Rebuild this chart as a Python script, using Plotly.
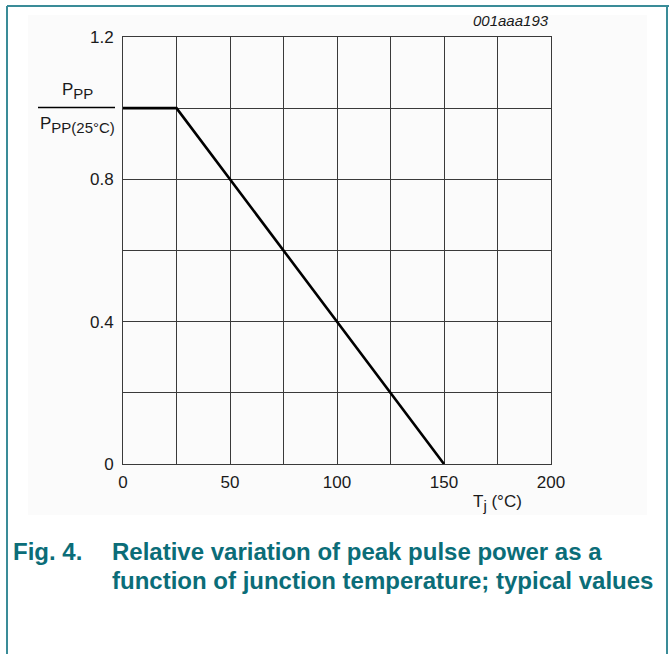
import plotly.graph_objects as go

# Data
tj_celsius = [0, 25, 150]
relative_ppp = [1.0, 1.0, 0.0]

x_tick_vals = [0, 25, 50, 75, 100, 125, 150, 175, 200]
x_tick_text = ["0", "", "50", "", "100", "", "150", "", "200"]
y_tick_vals = [0, 0.2, 0.4, 0.6, 0.8, 1.0, 1.2]
y_tick_text = ["0", "", "0.4", "", "0.8", "", "1.2"]

W, H = 669, 654
L, R, T, B = 123, 551, 37, 464
PW, PH = R - L, B - T

def px(x):
    return (x - L) / PW

def py(y):
    return (B - y) / PH

TEAL = "#0b6d78"
BORDER = "#3a8c98"
FONT = "Liberation Sans, Arial, sans-serif"
TXT = "#1a1a1a"

fig = go.Figure()
fig.add_trace(go.Scatter(x=tj_celsius, y=relative_ppp, mode="lines",
                         line=dict(color="black", width=2.6), showlegend=False,
                         hoverinfo="skip"))

axis_common = dict(showgrid=True, gridcolor="#3a3a3a", gridwidth=1,
                   showline=True, linecolor="#3a3a3a", linewidth=1, mirror=True,
                   zeroline=False, ticks="", fixedrange=True,
                   tickfont=dict(family=FONT, size=17, color=TXT))

SUB = "<sub><span style='font-size:15px'>{}</span></sub>"

fig.update_layout(
    width=W, height=H,
    margin=dict(l=L, r=W - R, t=T, b=H - B),
    paper_bgcolor="white", plot_bgcolor="white",
    xaxis=dict(range=[0, 200], tickmode="array", tickvals=x_tick_vals,
               ticktext=x_tick_text, ticklabelstandoff=3, **axis_common),
    yaxis=dict(range=[0, 1.2], tickmode="array", tickvals=y_tick_vals,
               ticktext=y_tick_text, ticklabelstandoff=5, **axis_common),
    shapes=[
        # faint background panel
        dict(type="rect", xref="paper", yref="paper", x0=px(28), x1=px(647),
             y0=py(515), y1=py(15), fillcolor="#fbfbfb", line=dict(width=0),
             layer="below"),
        # page frame
        dict(type="line", xref="paper", yref="paper", x0=px(7), x1=px(7),
             y0=py(6), y1=py(660), line=dict(color=BORDER, width=2)),
        dict(type="line", xref="paper", yref="paper", x0=px(7), x1=px(672),
             y0=py(6), y1=py(6), line=dict(color=BORDER, width=2)),
        dict(type="line", xref="paper", yref="paper", x0=px(667), x1=px(667),
             y0=py(6), y1=py(660), line=dict(color=BORDER, width=2)),
        # fraction bar for y label
        dict(type="line", xref="paper", yref="paper", x0=px(38), x1=px(115),
             y0=py(107.5), y1=py(107.5), line=dict(color="black", width=1.3)),
    ],
    annotations=[
        dict(text="P" + SUB.format("PP"), xref="paper", yref="paper", x=px(77),
             y=py(91), showarrow=False, xanchor="center", yanchor="middle",
             font=dict(family=FONT, size=17, color=TXT)),
        dict(text="P" + SUB.format("PP(25°C)"), xref="paper", yref="paper", x=px(77),
             y=py(125), showarrow=False, xanchor="center", yanchor="middle",
             font=dict(family=FONT, size=17, color=TXT)),
        dict(text="T" + SUB.format("j") + " (°C)", xref="paper", yref="paper", x=px(497),
             y=py(503), showarrow=False, xanchor="center", yanchor="middle",
             font=dict(family=FONT, size=17, color=TXT)),
        dict(text="<i>001aaa193</i>", xref="paper", yref="paper", x=px(551),
             y=py(21), showarrow=False, xanchor="right", yanchor="middle",
             font=dict(family=FONT, size=15, color=TXT)),
        dict(text="<b>Fig. 4.</b>", xref="paper", yref="paper", x=px(11),
             y=py(551), showarrow=False, xanchor="left", yanchor="middle",
             font=dict(family=FONT, size=24, color=TEAL)),
        dict(text="<b>Relative variation of peak pulse power as a</b>",
             xref="paper", yref="paper", x=px(110), y=py(551), showarrow=False,
             xanchor="left", yanchor="middle",
             font=dict(family=FONT, size=24, color=TEAL)),
        dict(text="<b>function of junction temperature; typical values</b>",
             xref="paper", yref="paper", x=px(110), y=py(580), showarrow=False,
             xanchor="left", yanchor="middle",
             font=dict(family=FONT, size=24, color=TEAL)),
    ],
)

fig.write_html("out.html", config={"displayModeBar": False},
               post_script="document.body.style.margin='0';")
